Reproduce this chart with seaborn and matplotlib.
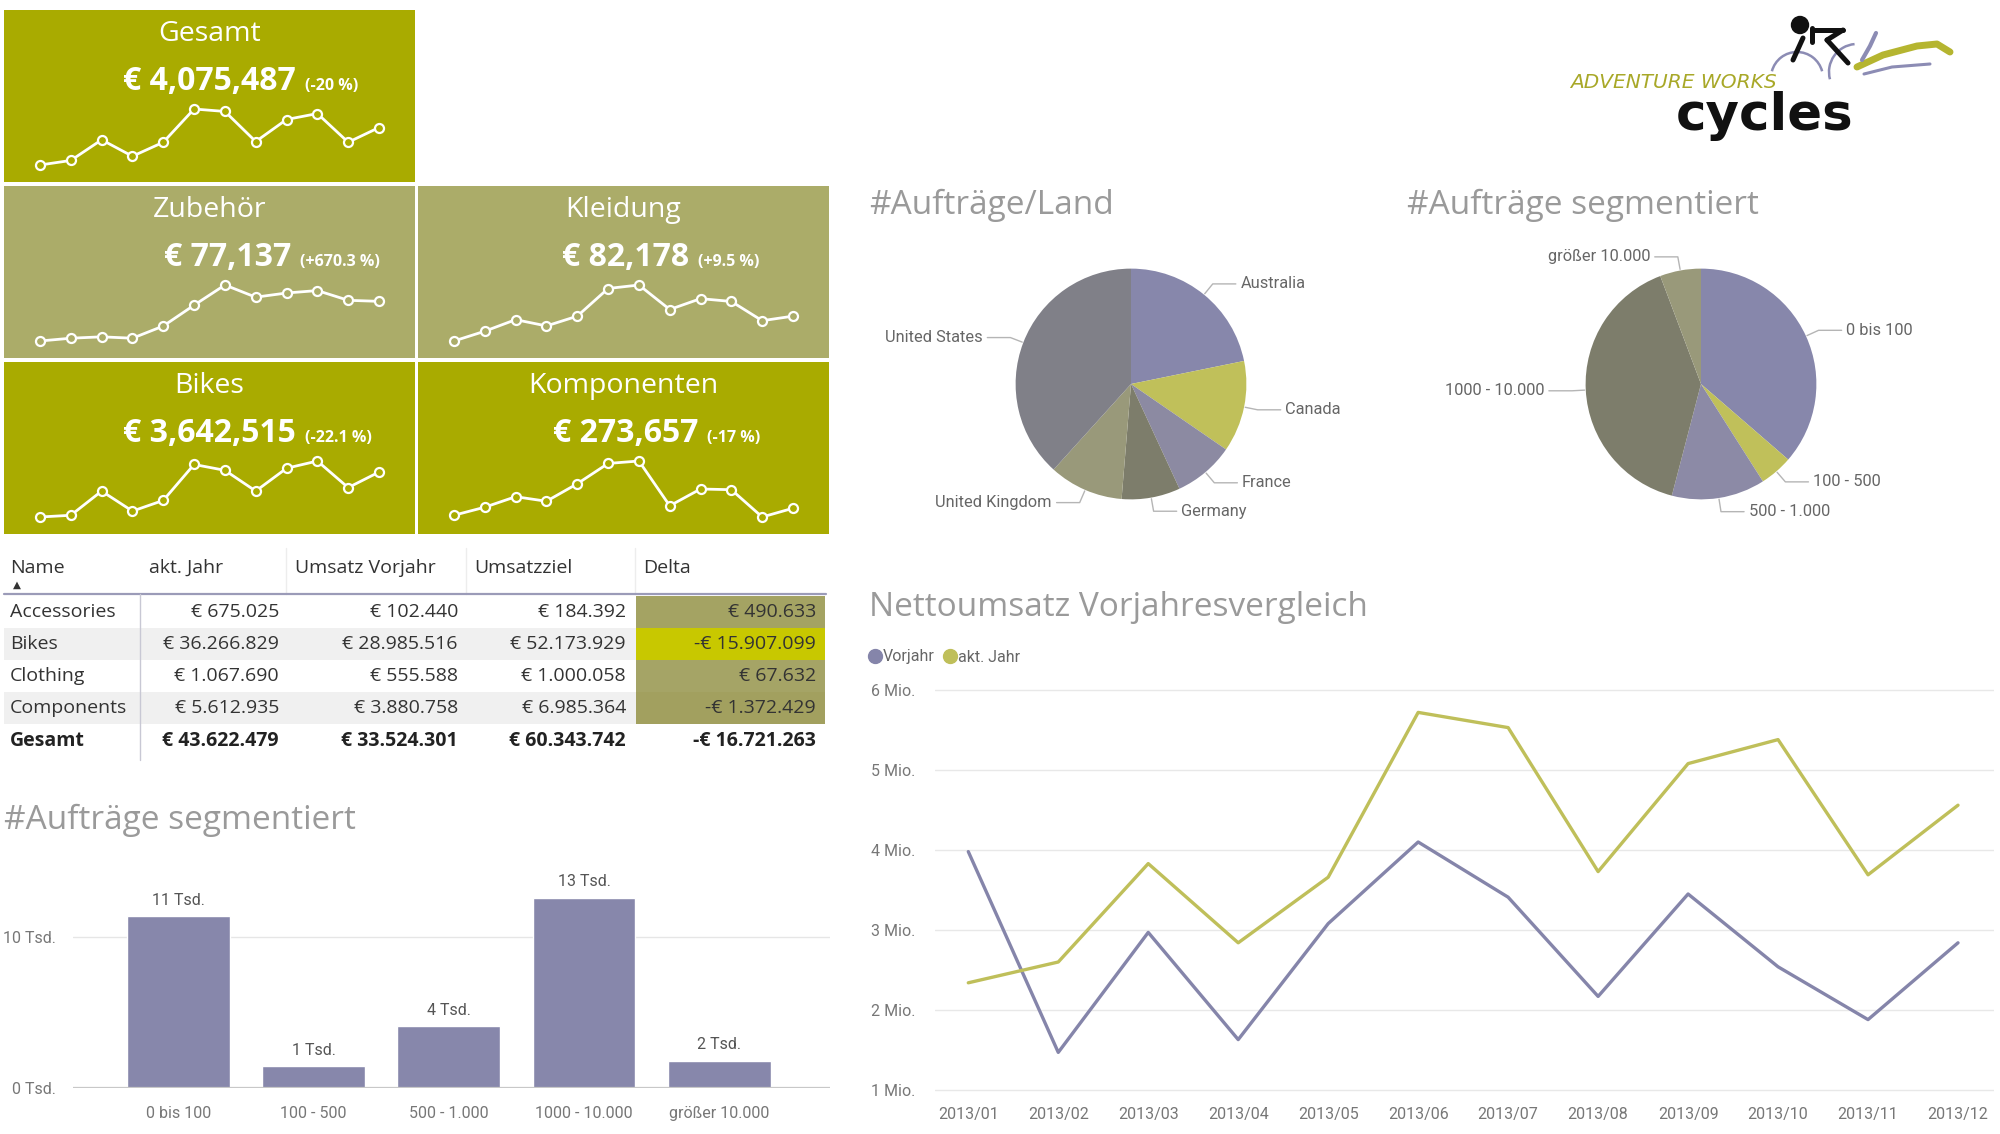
import matplotlib
matplotlib.use("Agg")
import matplotlib.pyplot as plt
from matplotlib.patches import Rectangle, Circle, Arc
from matplotlib.lines import Line2D
import numpy as np
import pandas as pd
import seaborn as sns

# ---------------- data ----------------
months = ["2013/01", "2013/02", "2013/03", "2013/04", "2013/05", "2013/06",
          "2013/07", "2013/08", "2013/09", "2013/10", "2013/11", "2013/12"]
umsatz_vorjahr = [3.98, 1.47, 2.97, 1.63, 3.08, 4.10, 3.41, 2.17, 3.45, 2.54, 1.88, 2.84]   # Mio. €
umsatz_akt_jahr = [2.34, 2.60, 3.83, 2.84, 3.66, 5.72, 5.53, 3.73, 5.08, 5.38, 3.69, 4.56]  # Mio. €
y_ticks_mio = [1, 2, 3, 4, 5, 6]

kpi_names = ["Gesamt", "Zubehör", "Kleidung", "Bikes", "Komponenten"]
kpi_values = ["€ 4,075,487", "€ 77,137", "€ 82,178", "€ 3,642,515", "€ 273,657"]
kpi_changes = ["(-20 %)", "(+670.3 %)", "(+9.5 %)", "(-22.1 %)", "(-17 %)"]
spark_gesamt = [0, 13, 72, 25, 65, 160, 153, 67, 130, 147, 65, 107]
spark_zubehoer = [0, 8, 12, 8, 43, 103, 161, 126, 138, 145, 117, 114]
spark_kleidung = [0, 28, 61, 43, 71, 150, 160, 90, 121, 113, 58, 71]
spark_bikes = [0, 5, 75, 17, 48, 152, 135, 75, 141, 162, 85, 130]
spark_komponenten = [5, 28, 58, 45, 95, 153, 160, 32, 80, 78, 0, 25]

table_headers = ["Name", "akt. Jahr", "Umsatz Vorjahr", "Umsatzziel", "Delta"]
table_names = ["Accessories", "Bikes", "Clothing", "Components", "Gesamt"]
table_akt_jahr = [675025, 36266829, 1067690, 5612935, 43622479]
table_vorjahr = [102440, 28985516, 555588, 3880758, 33524301]
table_ziel = [184392, 52173929, 1000058, 6985364, 60343742]
table_delta = [490633, -15907099, 67632, -1372429, -16721263]

segments = ["0 bis 100", "100 - 500", "500 - 1.000", "1000 - 10.000", "größer 10.000"]
auftraege = [11400, 1450, 4100, 12600, 1800]

countries = ["Australia", "Canada", "France", "Germany", "United Kingdom", "United States"]
country_share = [21.8, 12.8, 8.5, 8.2, 10.4, 38.3]

# ---------------- styles ----------------
W, H = 2000, 1134
OLIVE = "#A9AB00"
OLIVE_MUTED = "#ABAC69"
PURPLE = "#8787AB"
YELLOWGREEN = "#BFBF5A"
TITLE_GRAY = "#9A9A9A"
AX_FONT = ["Roboto", "DejaVu Sans"]

sns.set_style("white")
plt.rcParams["font.family"] = ["Open Sans", "DejaVu Sans"]

fig = plt.figure(figsize=(20, 11.34), dpi=100)
fig.patch.set_facecolor("white")


def px_axes(x0, y0, x1, y1):
    return fig.add_axes([x0 / W, 1 - y1 / H, (x1 - x0) / W, (y1 - y0) / H])


bg = fig.add_axes([0, 0, 1, 1])
bg.set_xlim(0, W)
bg.set_ylim(H, 0)
bg.axis("off")

# ---------------- KPI tiles ----------------
tile_boxes = [(4, 10, 415, 182), (4, 186, 415, 358), (418, 186, 829, 358),
              (4, 362, 415, 534), (418, 362, 829, 534)]
tile_colors = [OLIVE, OLIVE_MUTED, OLIVE_MUTED, OLIVE, OLIVE]
value_right = [296, 291, 689, 296, 698]
sparks = [spark_gesamt, spark_zubehoer, spark_kleidung, spark_bikes, spark_komponenten]

for name, val, chg, box, tc, vr, sp in zip(kpi_names, kpi_values, kpi_changes,
                                          tile_boxes, tile_colors, value_right, sparks):
    x0, y0, x1, y1 = box
    bg.add_patch(Rectangle((x0, y0), x1 - x0, y1 - y0, facecolor=tc, edgecolor="none"))
    bg.text((x0 + x1) / 2, y0 + 24, name, ha="center", va="center", fontsize=20.5, color="white")
    bg.text(vr, y0 + 80, val, ha="right", va="baseline", fontsize=23, weight="bold", color="white")
    bg.text(vr + 9, y0 + 80, chg, ha="left", va="baseline", fontsize=11.5, weight="bold", color="white")
    ax = px_axes(x0 + 36, y0 + 99, x1 - 36, y0 + 155)
    sns.lineplot(x=np.arange(len(sp)), y=sp, ax=ax, color="white", linewidth=2,
                 marker="o", markersize=6.5, markerfacecolor=tc,
                 markeredgecolor="white", markeredgewidth=1.6)
    for ln in ax.lines:
        ln.set_clip_on(False)
    ax.set_xlim(0, len(sp) - 1)
    ax.set_ylim(min(sp), max(sp))
    ax.axis("off")
    ax.patch.set_alpha(0)

# ---------------- table ----------------
def fmt_eur(v):
    s = f"{abs(v):,}".replace(",", ".")
    return ("-€ " if v < 0 else "€ ") + s

header_left = [10, 149, 295, 474, 643]
value_rights = [279, 458, 626, 816]
header_y = 568
row_tops = [596, 628, 660, 692, 724]
row_h = 32
delta_colors = ["#A4A363", "#C8C800", "#A5A466", "#A2A05F"]

for sx in [286, 466, 635]:
    bg.plot([sx, sx], [548, 594], color="#EDEDED", lw=1)
for i in range(4):
    if i % 2 == 1:
        bg.add_patch(Rectangle((4, row_tops[i]), 632, row_h, facecolor="#F0F0F0", edgecolor="none"))
    bg.add_patch(Rectangle((636, row_tops[i]), 189, row_h, facecolor=delta_colors[i], edgecolor="none"))
bg.plot([4, 826], [594, 594], color="#9B9BB8", lw=1.6)
bg.plot([140, 140], [594, 760], color="#C8C8D4", lw=1)

for hx, htxt in zip(header_left, table_headers):
    bg.text(hx, header_y, htxt, ha="left", va="center", fontsize=14, color="#333333")
bg.text(17, 585, "▲", ha="center", va="center", fontsize=7.5, color="#333333", family="DejaVu Sans")

for i, nm in enumerate(table_names):
    yc = row_tops[i] + row_h / 2 + (1 if i == 4 else 0)
    bold = "bold" if i == 4 else "normal"
    col = "#222222" if i == 4 else "#333333"
    bg.text(10, yc, nm, ha="left", va="center", fontsize=14, weight=bold, color=col)
    for xr, arr in zip(value_rights, [table_akt_jahr, table_vorjahr, table_ziel, table_delta]):
        bg.text(xr, yc, fmt_eur(arr[i]), ha="right", va="center", fontsize=14, weight=bold, color=col)

# ---------------- bar chart ----------------
bg.text(4, 820, "#Aufträge segmentiert", ha="left", va="center", fontsize=24, color=TITLE_GRAY)
ax_bar = px_axes(73, 870, 830, 1088)
sns.barplot(x=segments, y=auftraege, ax=ax_bar, color=PURPLE, saturation=1, width=0.76)
ax_bar.set_xlim(-0.78, 4.82)
ax_bar.set_ylim(0, 14437)
ax_bar.set_yticks([0, 10000])
ax_bar.set_yticklabels(["0 Tsd.", "10 Tsd."])
ax_bar.axhline(10000, color="#E6E6E6", lw=1, zorder=0)
ax_bar.axhline(0, color="#C8C8C8", lw=1.6, zorder=3)
for s in ax_bar.spines.values():
    s.set_visible(False)
ax_bar.tick_params(axis="both", length=0, labelsize=11.5, labelcolor="#777777")
ax_bar.tick_params(axis="y", pad=12)
ax_bar.tick_params(axis="x", pad=13)
for lab in ax_bar.get_xticklabels() + ax_bar.get_yticklabels():
    lab.set_family(AX_FONT)
ax_bar.set_xlabel("")
ax_bar.set_ylabel("")
ax_bar.bar_label(ax_bar.containers[0], labels=[f"{round(v / 1000)} Tsd." for v in auftraege],
                 padding=6, fontsize=11.5, color="#555555", family=AX_FONT)
ax_bar.patch.set_alpha(0)

# ---------------- pies ----------------
pie_colors_country = ["#8787AB", "#C0C05A", "#8C8AA2", "#7D7D6B", "#99997A", "#808088"]
pie_colors_segment = ["#8787AB", "#C0C05A", "#8C8AA6", "#7D7D6B", "#99997A"]


def pie_with_labels(ax, values, labels, colors):
    wedges, _ = ax.pie(values, colors=colors, startangle=90, counterclock=False,
                       radius=1, wedgeprops=dict(linewidth=0))
    for w, lab in zip(wedges, labels):
        ang = np.deg2rad((w.theta1 + w.theta2) / 2)
        x, y = np.cos(ang), np.sin(ang)
        ex, ey = 1.12 * x, 1.12 * y
        side = 1 if x >= 0 else -1
        hx = ex + side * 0.2
        ax.plot([1.01 * x, ex, hx], [1.01 * y, ey, ey], color="#B5B5B5", lw=1, clip_on=False)
        ax.text(hx + side * 0.04, ey, lab, ha="left" if side > 0 else "right", va="center",
                fontsize=11.8, color="#666666", family=AX_FONT)
    ax.set_xlim(-1.3, 1.3)
    ax.set_ylim(-1.3, 1.3)
    ax.set_aspect("equal")
    ax.axis("off")


bg.text(869, 205, "#Aufträge/Land", ha="left", va="center", fontsize=24, color=TITLE_GRAY)
bg.text(1407, 205, "#Aufträge segmentiert", ha="left", va="center", fontsize=24, color=TITLE_GRAY)
ax_p1 = px_axes(981, 234, 1281, 534)
pie_with_labels(ax_p1, country_share, countries, pie_colors_country)
ax_p2 = px_axes(1551, 234, 1851, 534)
pie_with_labels(ax_p2, auftraege, segments, pie_colors_segment)

# ---------------- line chart ----------------
bg.text(869, 607, "Nettoumsatz Vorjahresvergleich", ha="left", va="center", fontsize=24, color=TITLE_GRAY)
df = pd.DataFrame({
    "Monat": months + months,
    "Umsatz": umsatz_vorjahr + umsatz_akt_jahr,
    "Serie": ["Vorjahr"] * len(months) + ["akt. Jahr"] * len(months),
})
line_palette = {"Vorjahr": "#8585AA", "akt. Jahr": YELLOWGREEN}
ax_line = px_axes(935, 685, 1994, 1095)
sns.lineplot(data=df, x="Monat", y="Umsatz", hue="Serie", palette=line_palette,
             linewidth=2.4, ax=ax_line, legend=False, sort=False)
ax_line.set_xlim(-0.37, 11.4)
ax_line.set_ylim(1 - 5 / 80, 6 + 5 / 80)
ax_line.set_yticks(y_ticks_mio)
ax_line.set_yticklabels([f"{v} Mio." for v in y_ticks_mio])
ax_line.yaxis.grid(True, color="#E8E8E8", lw=1)
ax_line.xaxis.grid(False)
ax_line.set_axisbelow(True)
for s in ax_line.spines.values():
    s.set_visible(False)
ax_line.tick_params(axis="both", length=0, labelsize=11.5, labelcolor="#777777")
ax_line.tick_params(axis="y", pad=14)
ax_line.tick_params(axis="x", pad=9)
for lab in ax_line.get_xticklabels() + ax_line.get_yticklabels():
    lab.set_family(AX_FONT)
ax_line.set_xlabel("")
ax_line.set_ylabel("")
ax_line.patch.set_alpha(0)

handles = [Line2D([0], [0], marker="o", ls="", markerfacecolor=c, markeredgecolor=c, markersize=10)
           for c in line_palette.values()]
leg = fig.legend(handles, list(line_palette.keys()), loc="center left",
                 bbox_to_anchor=(868 / W, 1 - 657 / H), ncol=2, frameon=False, fontsize=11.5,
                 handletextpad=0.05, columnspacing=0.5, handlelength=0.9, borderpad=0,
                 borderaxespad=0, labelcolor="#666666")
for t in leg.get_texts():
    t.set_family(AX_FONT)

# ---------------- logo ----------------
bg.text(1570, 82, "ADVENTURE WORKS", ha="left", va="center", fontsize=14.5, style="italic",
        color="#A8A828", family="DejaVu Sans")
bg.text(1676, 116, "cycles", ha="left", va="center", fontsize=37, weight="bold",
        color="#111111", family="DejaVu Sans")
bg.add_patch(Circle((1800, 25), 8.5, color="#111111"))
for xs, ys in [([1812, 1843], [30, 30]), ([1843, 1827], [30, 40]), ([1827, 1848], [40, 63]),
               ([1803, 1793], [38, 60]), ([1812, 1812], [28, 42])]:
    bg.plot(xs, ys, color="#111111", lw=3.6, solid_capstyle="round")
bg.add_patch(Arc((1797, 78), 52, 52, theta1=195, theta2=345, color="#8C8CB4", lw=1.8))
bg.add_patch(Arc((1857, 72), 56, 56, theta1=165, theta2=265, color="#8C8CB4", lw=1.8))
bg.plot([1857, 1883, 1917, 1937, 1950], [67, 55, 46, 44, 52], color="#B5B530", lw=5,
        solid_capstyle="round")
bg.plot([1862, 1870, 1876], [60, 46, 33], color="#8C8CB4", lw=3, solid_capstyle="round")
bg.plot([1864, 1892, 1930], [74, 67, 64], color="#8C8CB4", lw=2.2, solid_capstyle="round")

fig.savefig("out.png", dpi=100, facecolor="white")
